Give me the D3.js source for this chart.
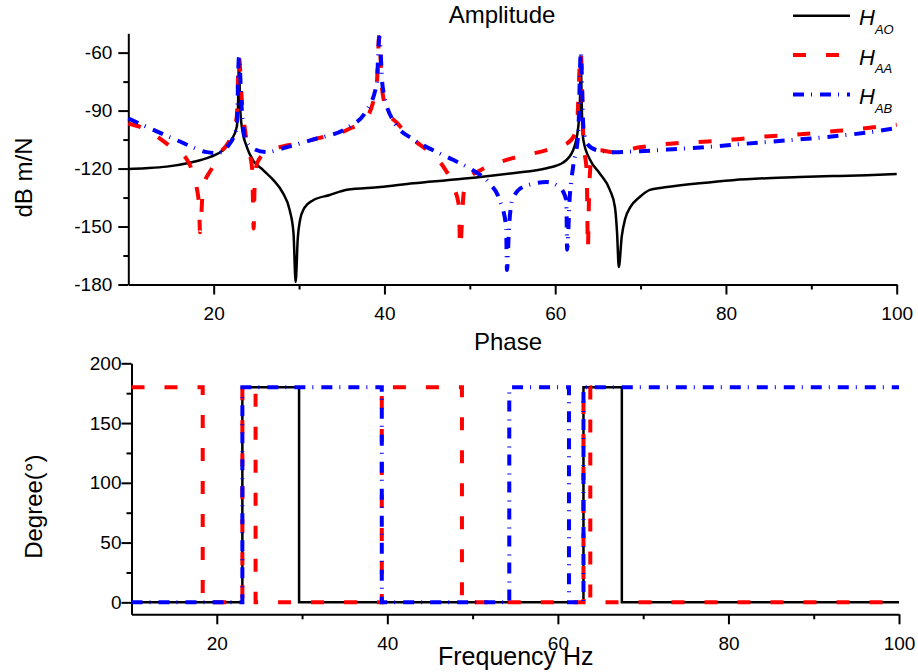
<!DOCTYPE html>
<html>
<head>
<meta charset="utf-8">
<script src="https://cdn.jsdelivr.net/npm/d3@7"></script>
<style>
  body { margin: 0; background: #fff; }
  svg text { font-family: Arial, "Liberation Sans", sans-serif; fill: #000; }
</style>
</head>
<body>
<svg id="frf" width="918" height="672"></svg>
<script>
// amplitude (Hz / dB m/N)
const freqAO = [10, 12, 14.5, 17.2, 19.6, 21.1, 22.1, 22.7, 22.85, 22.96, 23.1, 23.3, 23.9, 24.6, 25.8, 27, 28.1, 28.9, 29.35, 29.6,
  29.85, 30.1, 30.6, 31.6, 33.6, 35.6, 39.5, 43.4, 47.3, 51.2, 55, 59, 60.9, 62.1, 62.7, 62.9, 63.0, 63.1, 63.3, 64.1, 65.2,
  66.4, 67.0, 67.25, 67.45, 67.8, 68.2, 68.8, 69.9, 71.1, 73.1, 76.9, 80.8, 84.8, 88.6, 92.5, 96.5, 100];
const ampAO = [-120.2, -119.8, -119, -117, -114, -110.5, -105, -98.5, -88, -64, -88, -98.5, -109, -115.6, -120.8, -126, -132.6, -141.5, -153.4, -178.7,
  -156, -147, -140.5, -136.5, -133.7, -131, -129.6, -127.6, -126, -124.4, -122.4, -119.8, -117, -110.5, -98.5, -85, -62, -85, -105.3, -115.6, -122.4,
  -131, -140, -153.4, -171, -155, -146, -140, -134.7, -131, -129.6, -127.6, -126, -125, -124.4, -123.9, -123.4, -122.8];

const freqAA = [10, 11.7, 15.2, 16.9, 17.45, 18.0, 18.3, 18.4, 18.75, 19.8, 20.75, 21.9, 22.7, 22.96, 23.3, 23.9, 24.5, 24.6, 24.68, 24.8,
  25.1, 26.2, 28.1, 30.1, 31.6, 35.6, 37.9, 39.1, 39.4, 39.7, 40.3, 41.5, 43.4, 45.4, 46.9, 48.1, 48.75, 48.85, 49.3, 50.0,
  51.2, 55.0, 59.0, 61.4, 62.5, 63.0, 63.3, 63.7, 63.76, 63.82, 64.0, 64.3, 65.2, 66.8, 69.9, 73.8, 77.8, 80.8, 84.0, 87.8,
  91.8, 95.6, 99.6, 100];
const ampAA = [-96.7, -99, -109.5, -115.6, -120.8, -129.6, -140, -153, -130, -119.8, -112, -105, -93.5, -62.4, -84.7, -107, -119.8, -136.6, -151, -128,
  -117, -111.5, -108.5, -107, -105, -100, -93.6, -76, -51, -78, -90, -96.5, -105, -112, -119, -129.5, -140, -161, -132, -124.5,
  -121, -114.6, -110.5, -107, -100, -60, -105, -122.5, -140, -161.7, -128, -114, -110.5, -111.5, -109, -107, -106, -105, -103.6, -102.6,
  -101, -99.5, -97.5, -97.3];

const freqAB = [10, 11.7, 16.05, 19.2, 20.4, 21.9, 22.7, 22.96, 23.3, 23.66, 24.6, 26.2, 28.1, 30.1, 31.6, 35.6, 37.9, 39.1, 39.4, 39.8,
  41.0, 43.4, 45.7, 48.1, 50.4, 52.3, 53.5, 54.25, 54.35, 54.6, 55.0, 56.2, 59.0, 60.5, 61.3, 61.4, 61.7, 62.1, 62.7, 63.0,
  63.3, 63.7, 64.9, 66.8, 69.9, 73.8, 77.8, 81.6, 85.5, 89.5, 93.3, 97.2, 100];
const ampAB = [-94, -97.5, -106, -111.5, -112, -107, -98.5, -62.4, -90, -104, -109.6, -111.5, -109.5, -107, -105, -99, -90, -76, -52, -78,
  -95, -105, -110.5, -115.6, -121, -127.6, -136.3, -150, -172.5, -150, -136, -129.6, -127, -129.6, -136.3, -162, -135, -119, -102, -59.8,
  -98.5, -107, -110.5, -111.5, -111, -110, -108.8, -107.4, -106, -104.6, -103, -101, -99];

// phase: frequency where each level starts (degrees)
const flipAO = [10, 23, 29.65, 63, 67.5, 100];
const levelAO = [0, 180, 0, 180, 0, 0];
const flipAA = [10, 18.35, 23, 24.55, 39.35, 48.75, 63, 63.8, 100];
const levelAA = [180, 0, 180, 0, 180, 0, 180, 0, 0];
const flipAB = [10, 23, 39.35, 54.3, 61.3, 63, 100];
const levelAB = [0, 180, 0, 180, 0, 180, 180];

const ampTicks = [-180, -150, -120, -90, -60];
const ampMinor = [-165, -135, -105, -75];
const phaseTicks = [0, 50, 100, 150, 200];
const phaseMinor = [25, 75, 125, 175];
const freqTicks = [20, 40, 60, 80, 100];
const freqMinor = [30, 50, 70, 90];

const series = [
  {sub: 'AO', color: '#000000', width: 2.5, dash: null, freq: freqAO, amp: ampAO, flip: flipAO, level: levelAO},
  {sub: 'AA', color: '#ff0000', width: 4, dash: '13,20', freq: freqAA, amp: ampAA, flip: flipAA, level: levelAA},
  {sub: 'AB', color: '#0000ff', width: 4, dash: '11,7,1,8', freq: freqAB, amp: ampAB, flip: flipAB, level: levelAB}
];

const svg = d3.select('svg#frf');
const font = 'Arial, "Liberation Sans", sans-serif';

// top panel: amplitude
let xA = d3.scaleLinear().domain([10, 100]).range([128.3, 896.7]);
let yA = d3.scaleLinear().domain([-180, -50]).range([284.5, 33.3]);
// bottom panel: phase
let xP = d3.scaleLinear().domain([10, 100]).range([131.5, 899]);
let yP = d3.scaleLinear().domain([-10, 200]).range([614.3, 363.3]);

// plain hyphen minus, like the original
const plain = d => String(d);

function drawAxes(x, y, yTicks, yMinor, yPad) {
  let xBase = y.range()[0];
  let yBase = x.range()[0];

  let gx = svg.append('g')
    .attr('transform', `translate(0,${xBase})`)
    .call(d3.axisBottom(x).tickValues(freqTicks).tickFormat(plain).tickSize(10).tickPadding(12).tickSizeOuter(0));
  svg.append('g')
    .attr('transform', `translate(0,${xBase})`)
    .call(d3.axisBottom(x).tickValues(freqMinor).tickSize(5).tickFormat('').tickSizeOuter(0))
    .select('.domain').remove();

  let gy = svg.append('g')
    .attr('transform', `translate(${yBase},0)`)
    .call(d3.axisLeft(y).tickValues(yTicks).tickFormat(plain).tickSize(10).tickPadding(yPad).tickSizeOuter(0));
  svg.append('g')
    .attr('transform', `translate(${yBase},0)`)
    .call(d3.axisLeft(y).tickValues(yMinor).tickSize(5).tickFormat('').tickSizeOuter(0))
    .select('.domain').remove();

  svg.selectAll('.domain').attr('stroke-width', 2).attr('stroke', '#000');
  svg.selectAll('.tick line').attr('stroke-width', 2).attr('stroke', '#000');
  [gx, gy].forEach(g => g.selectAll('text')
    .attr('font-size', 19)
    .attr('font-family', font)
    .style('fill', '#000'));
}

drawAxes(xA, yA, ampTicks, ampMinor, 6);
drawAxes(xP, yP, phaseTicks, phaseMinor, 0);

// curves
series.forEach(s => {
  let ampLine = d3.line()
    .x((d, i) => xA(s.freq[i]))
    .y(d => yA(d))
    .curve(d3.curveMonotoneX);
  svg.append('path')
    .attr('d', ampLine(s.amp))
    .attr('fill', 'none')
    .attr('stroke', s.color)
    .attr('stroke-width', s.width)
    .attr('stroke-dasharray', s.dash);

  let phaseLine = d3.line()
    .x((d, i) => xP(s.flip[i]))
    .y(d => yP(d))
    .curve(d3.curveStepAfter);
  svg.append('path')
    .attr('d', phaseLine(s.level))
    .attr('fill', 'none')
    .attr('stroke', s.color)
    .attr('stroke-width', s.width)
    .attr('stroke-dasharray', s.dash);
});

// titles
svg.append('text').attr('x', 502).attr('y', 22.7)
  .attr('text-anchor', 'middle').attr('font-size', 24).text('Amplitude');
svg.append('text').attr('x', 508).attr('y', 350)
  .attr('text-anchor', 'middle').attr('font-size', 24).text('Phase');
svg.append('text').attr('x', 515.8).attr('y', 665)
  .attr('text-anchor', 'middle').attr('font-size', 25).text('Frequency Hz');
svg.append('text').attr('transform', 'translate(31.7,177.5) rotate(-90)')
  .attr('text-anchor', 'middle').attr('font-size', 24).text('dB m/N');
svg.append('text').attr('transform', 'translate(42,506.7) rotate(-90)')
  .attr('text-anchor', 'middle').attr('font-size', 24).text('Degree(\u00b0)');

// legend
let legendY = [15.7, 55, 94.5];
series.forEach((s, i) => {
  svg.append('line')
    .attr('x1', 793).attr('x2', 850)
    .attr('y1', legendY[i]).attr('y2', legendY[i])
    .attr('stroke', s.color)
    .attr('stroke-width', s.width)
    .attr('stroke-dasharray', s.dash);
  let t = svg.append('text')
    .attr('x', 859).attr('y', legendY[i] + 9.5)
    .attr('font-size', 22)
    .attr('font-style', 'italic')
    .text('H');
  t.append('tspan')
    .attr('dy', 8.5)
    .attr('font-size', 13)
    .text(s.sub);
});
</script>
</body>
</html>
